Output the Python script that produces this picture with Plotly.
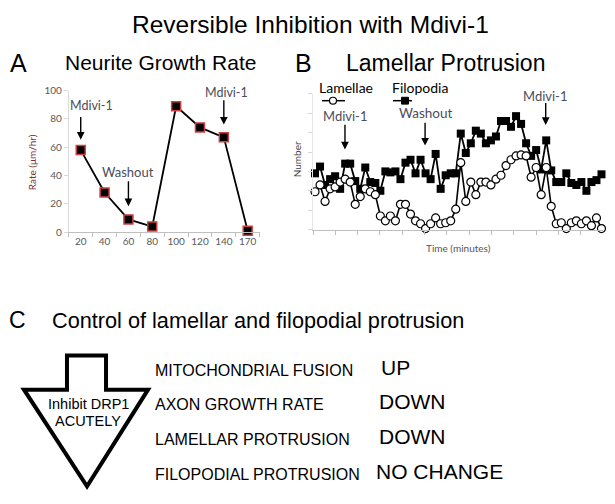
import plotly.graph_objects as go

# ---- data ----
growth_times = ["20", "40", "60", "80", "100", "120", "140", "170"]
growth_rate = [58, 28, 9, 4, 89, 74, 67, 1]

lamellae = [1.95, 2.3, 1.45, 2.1, 2.2, 2.45, 2.6, 2.45, 1.3, 1.7,
            2.1, 1.95, 1.8, 0.7, 0.45, 0.7, 0.45, 1.3, 1.3, 0.8,
            0.45, 0.3, 0.05, 0.3, 0.6, 0.3, 0.35, 0.45, 1.05, 3.45,
            1.45, 2.45, 1.8, 2.45, 2.45, 2.3, 2.6, 2.8, 3.3, 3.6,
            3.8, 3.85, 3.8, 2.7, 3.2, 1.8, 3.2, 1.2, 0.3, 0.35,
            0.05, 0.35, 0.45, 0.3, 0.45, 0.2, 0.6, 0.05]
filopodia = [2.9, 3.25, 2.3, 2.6, 2.75, 2.1, 3.4, 3.4, 2.5, 2.1,
             3.2, 2.45, 2.4, 2.0, 3.0, 2.95, 3.0, 2.6, 3.45, 3.6,
             2.9, 3.6, 2.9, 2.6, 3.9, 2.1, 2.8, 2.9, 2.9, 4.95,
             3.95, 4.45, 5.1, 4.95, 4.45, 4.6, 4.8, 5.6, 5.6, 5.3,
             5.85, 5.45, 4.45, 3.8, 4.1, 3.1, 4.6, 3.05, 2.45, 2.45,
             2.9, 2.4, 2.3, 2.45, 2.0, 2.45, 2.55, 2.85]
time_idx = list(range(len(filopodia)))

effects = ["MITOCHONDRIAL FUSION", "AXON GROWTH RATE",
           "LAMELLAR PROTRUSION", "FILOPODIAL PROTRUSION"]
changes = ["UP", "DOWN", "DOWN", "NO CHANGE"]

W, H = 615, 504
TITLE_FONT = "Liberation Sans, Arial, sans-serif"
SMALL_FONT = "Lato, Open Sans, sans-serif"


def px(x):
    return x / W


def py(y):
    return 1 - y / H


fig = go.Figure()

# panel A
fig.add_trace(go.Scatter(
    x=growth_times, y=growth_rate, mode="lines+markers",
    line=dict(color="black", width=1.8),
    marker=dict(symbol="square", size=9, color="black",
                line=dict(color="#d04040", width=1.5)),
    cliponaxis=False, xaxis="x", yaxis="y"))

# panel B
fig.add_trace(go.Scatter(
    x=time_idx, y=filopodia, mode="lines+markers",
    line=dict(color="black", width=1.8),
    marker=dict(symbol="square", size=8, color="black"),
    cliponaxis=False, xaxis="x2", yaxis="y2"))
fig.add_trace(go.Scatter(
    x=time_idx, y=lamellae, mode="lines+markers",
    line=dict(color="black", width=1.6),
    marker=dict(symbol="circle", size=8, color="white",
                line=dict(color="black", width=1.2)),
    cliponaxis=False, xaxis="x2", yaxis="y2"))

ann = []


def txt(x, y, s, size, color="black", family=TITLE_FONT, xanchor="center", **kw):
    ann.append(dict(x=px(x), y=py(y), xref="paper", yref="paper", text=s,
                    showarrow=False, xanchor=xanchor, yanchor="middle",
                    font=dict(size=size, color=color, family=family), **kw))


def arrow(x, y0, y1, xr, yr):
    ann.append(dict(x=x, y=y1, ax=x, ay=y0, xref=xr, yref=yr, axref=xr, ayref=yr,
                    text="", showarrow=True, arrowhead=2, arrowsize=1.1,
                    arrowwidth=1.4, arrowcolor="black"))


# titles
txt(310, 19, "Reversible Inhibition with Mdivi-1", 24.5)
txt(18, 58, "A", 25)
txt(160, 58, "Neurite Growth Rate", 21)
txt(303, 58, "B", 25)
txt(445, 58, "Lamellar Protrusion", 23)
txt(17, 322, "C", 23)
txt(258, 322, "Control of lamellar and filopodial protrusion", 21.7)

# panel A labels
txt(32, 160, "Rate (μm/hr)", 10, color="#7b2f2f", family=SMALL_FONT, textangle=-90)
ann.append(dict(x=0.47, y=89.4, xref="x", yref="y", text="Mdivi-1", showarrow=False,
                font=dict(size=12.5, color="#4d4d5a", family=SMALL_FONT)))
ann.append(dict(x=1.98, y=42.5, xref="x", yref="y", text="Washout", showarrow=False,
                font=dict(size=13, color="#4d4d5a", family=SMALL_FONT)))
ann.append(dict(x=6.13, y=98.4, xref="x", yref="y", text="Mdivi-1", showarrow=False,
                font=dict(size=12.5, color="#4d4d5a", family=SMALL_FONT)))
arrow(0, 82.5, 65.3, "x", "y")
arrow(2, 37, 18.4, "x", "y")
arrow(6, 94.3, 76, "x", "y")

# panel B labels
txt(297, 157, "Number", 10, color="#444", family=SMALL_FONT, textangle=-90)
txt(458, 248, "Time (minutes)", 10, color="#555", family=SMALL_FONT)
txt(346, 84, "Lamellae", 14, family=SMALL_FONT)
txt(420, 84, "Filopodia", 14, family=SMALL_FONT)
ann.append(dict(x=5.96, y=5.84, xref="x2", yref="y2", text="Mdivi-1", showarrow=False,
                font=dict(size=13, color="#4d4d5a", family=SMALL_FONT)))
ann.append(dict(x=21.9, y=5.99, xref="x2", yref="y2", text="Washout", showarrow=False,
                font=dict(size=13.5, color="#4d4d5a", family=SMALL_FONT)))
ann.append(dict(x=45.7, y=6.9, xref="x2", yref="y2", text="Mdivi-1", showarrow=False,
                font=dict(size=13, color="#4d4d5a", family=SMALL_FONT)))
arrow(5.96, 5.49, 4.13, "x2", "y2")
arrow(21.9, 5.59, 4.33, "x2", "y2")
arrow(45.9, 6.6, 5.39, "x2", "y2")

# panel C list
rows_y = [373, 408, 444, 480]
change_x = [379, 377, 377, 374]
for name, ch, yy, cx in zip(effects, changes, rows_y, change_x):
    txt(153, yy, name, 16, xanchor="left")
    txt(cx, yy - 3, ch, 21, xanchor="left")
txt(88, 408, "Inhibit DRP1", 14.5)
txt(88, 425, "ACUTELY", 14.5)

shapes = []
# legend samples
shapes.append(dict(type="line", xref="paper", yref="paper", x0=px(322), x1=px(345),
                   y0=py(97), y1=py(97), line=dict(color="black", width=1.5)))
shapes.append(dict(type="circle", xref="paper", yref="paper", x0=px(329.5), x1=px(336.5),
                   y0=py(100.5), y1=py(93.5), fillcolor="white",
                   line=dict(color="black", width=1.2)))
shapes.append(dict(type="line", xref="paper", yref="paper", x0=px(393), x1=px(412),
                   y0=py(97), y1=py(97), line=dict(color="black", width=1.5)))
shapes.append(dict(type="rect", xref="paper", yref="paper", x0=px(401.5), x1=px(408.5),
                   y0=py(100.5), y1=py(93.5), fillcolor="black",
                   line=dict(color="black", width=1)))

# big down arrow in panel C
pts = [(67, 358), (106, 358), (106, 393), (148, 393), (87, 492), (24, 393), (67, 393)]
path = "M " + " L ".join(f"{px(a):.4f},{py(b):.4f}" for a, b in pts) + " Z"
shapes.append(dict(type="path", xref="paper", yref="paper", path=path,
                   line=dict(color="black", width=4), fillcolor="rgba(0,0,0,0)"))

fig.update_layout(
    width=W, height=H, margin=dict(l=0, r=0, t=0, b=0),
    paper_bgcolor="white", plot_bgcolor="white", showlegend=False,
    annotations=ann, shapes=shapes,
    xaxis=dict(domain=[px(68.8), px(259.6)], type="category",
               categoryorder="array", categoryarray=growth_times,
               range=[-0.5, 7.5], tickson="boundaries", ticks="outside",
               ticklen=4, tickcolor="#bfbfbf", showline=True, linecolor="#bfbfbf",
               showgrid=False, zeroline=False, anchor="y", tickangle=0,
               tickfont=dict(size=10, color="#595959", family=SMALL_FONT)),
    yaxis=dict(domain=[py(231.7), py(86.7)], range=[0, 100], dtick=20,
               ticks="outside", ticklen=4, tickcolor="#d9d9d9", showline=True,
               linecolor="#d9d9d9", showgrid=False, zeroline=False, anchor="x",
               tickfont=dict(size=10, color="#595959", family=SMALL_FONT)),
    xaxis2=dict(domain=[px(313), px(603)], range=[-0.4, 57.3], tick0=-0.4,
                dtick=4.44, ticks="outside", ticklen=4, tickcolor="#bfbfbf",
                showline=True, linecolor="#bfbfbf", showticklabels=False,
                showgrid=False, zeroline=False, anchor="y2"),
    yaxis2=dict(domain=[py(229), py(90)], range=[0, 7], dtick=1,
                ticks="outside", ticklen=4, tickcolor="#d9d9d9", showline=True,
                linecolor="#e6e6e6", showticklabels=False,
                showgrid=False, zeroline=False, anchor="x2"),
)

# page has a default body margin; drop it so the figure sits at the window origin
fig.write_html("out.html", config={"displayModeBar": False},
               post_script="document.body.style.margin='0';document.body.style.overflow='hidden';")
